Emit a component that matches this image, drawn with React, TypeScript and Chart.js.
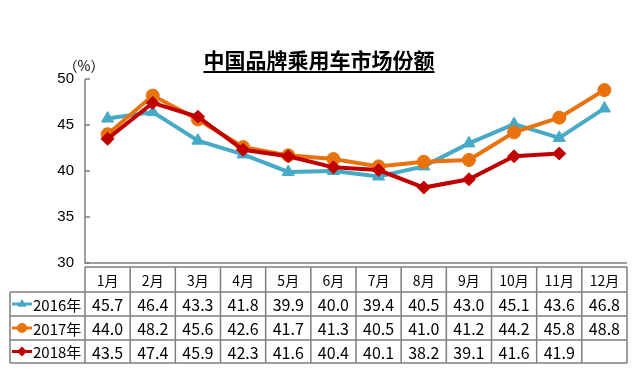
import React, { useEffect, useRef } from "react";
import { Chart, registerables } from "chart.js";

Chart.register(...registerables);

const months = ["1月", "2月", "3月", "4月", "5月", "6月", "7月", "8月", "9月", "10月", "11月", "12月"];
const values2016 = [45.7, 46.4, 43.3, 41.8, 39.9, 40.0, 39.4, 40.5, 43.0, 45.1, 43.6, 46.8];
const values2017 = [44.0, 48.2, 45.6, 42.6, 41.7, 41.3, 40.5, 41.0, 41.2, 44.2, 45.8, 48.8];
const values2018 = [43.5, 47.4, 45.9, 42.3, 41.6, 40.4, 40.1, 38.2, 39.1, 41.6, 41.9, null];
const seriesNames = ["2016年", "2017年", "2018年"];
const yTickValues = [30, 35, 40, 45, 50];
const titleText = "中国品牌乘用车市场份额";
const unitText = "（%）";

const COLORS = ["#46AAC6", "#E8720C", "#C00000"];
const MARKERS = ["triangle", "circle", "rectRot"];
const CJK = "'Noto Sans CJK SC', sans-serif";
const GRID = "#7f7f7f";

function drawMarker(ctx: CanvasRenderingContext2D, kind: string, x: number, y: number, r: number) {
  ctx.beginPath();
  if (kind === "triangle") {
    ctx.moveTo(x, y - r);
    ctx.lineTo(x + r * 0.9, y + r * 0.55);
    ctx.lineTo(x - r * 0.9, y + r * 0.55);
    ctx.closePath();
  } else if (kind === "circle") {
    ctx.arc(x, y, r, 0, Math.PI * 2);
  } else {
    ctx.moveTo(x, y - r);
    ctx.lineTo(x + r, y);
    ctx.lineTo(x, y + r);
    ctx.lineTo(x - r, y);
    ctx.closePath();
  }
  ctx.fill();
}

const decorPlugin = {
  id: "decor",
  afterDraw(chart: any) {
    const ctx: CanvasRenderingContext2D = chart.ctx;
    const xs = chart.scales.x;
    const ys = chart.scales.y;
    const { left, right, top, bottom } = chart.chartArea;
    ctx.save();

    // Title
    ctx.fillStyle = "#000";
    ctx.font = `bold 21px ${CJK}`;
    ctx.textAlign = "center";
    ctx.textBaseline = "middle";
    ctx.fillText(titleText, 319, 60);
    const tw = ctx.measureText(titleText).width;
    ctx.fillRect(319 - tw / 2, 71, tw, 2);

    // Unit
    ctx.font = `14px ${CJK}`;
    ctx.fillText(unitText, 84, 66);

    // Axes
    ctx.strokeStyle = GRID;
    ctx.lineWidth = 1.5;
    ctx.beginPath();
    ctx.moveTo(left, top);
    ctx.lineTo(left, bottom);
    ctx.lineTo(right, bottom);
    ctx.stroke();
    ctx.beginPath();
    yTickValues.forEach((v) => {
      const py = ys.getPixelForValue(v);
      ctx.moveTo(left, py);
      ctx.lineTo(left + 5, py);
    });
    ctx.stroke();

    // Table
    const half = (right - left) / months.length / 2;
    const bounds: number[] = [];
    for (let i = 0; i < months.length; i++) bounds.push(xs.getPixelForValue(i) - half);
    bounds.push(xs.getPixelForValue(months.length - 1) + half);
    const headTop = 267;
    const rowTops = [292, 316, 340];
    const tableBottom = 363;
    const tableLeft = 10;

    ctx.strokeStyle = GRID;
    ctx.lineWidth = 1.5;
    ctx.beginPath();
    ctx.moveTo(left, headTop);
    ctx.lineTo(right, headTop);
    [...rowTops, tableBottom].forEach((ry) => {
      ctx.moveTo(tableLeft, ry);
      ctx.lineTo(right, ry);
    });
    bounds.forEach((bx) => {
      ctx.moveTo(bx, headTop);
      ctx.lineTo(bx, tableBottom);
    });
    ctx.moveTo(tableLeft, rowTops[0]);
    ctx.lineTo(tableLeft, tableBottom);
    ctx.stroke();

    ctx.fillStyle = "#000";
    ctx.textAlign = "center";
    ctx.textBaseline = "middle";
    ctx.font = `14px ${CJK}`;
    months.forEach((m, i) => {
      ctx.fillText(m, xs.getPixelForValue(i), (headTop + rowTops[0]) / 2 + 1);
    });

    const allValues = [values2016, values2017, values2018];
    allValues.forEach((vals, r) => {
      const rowTop = rowTops[r];
      const rowBot = r < 2 ? rowTops[r + 1] : tableBottom;
      const cy = (rowTop + rowBot) / 2 + 1;
      ctx.font = `16px ${CJK}`;
      ctx.fillStyle = "#000";
      ctx.textAlign = "center";
      vals.forEach((v, i) => {
        if (v === null || v === undefined) return;
        ctx.fillText(v.toFixed(1), xs.getPixelForValue(i), cy);
      });
      // legend key
      ctx.strokeStyle = COLORS[r];
      ctx.lineWidth = 3;
      ctx.beginPath();
      ctx.moveTo(12, cy - 1);
      ctx.lineTo(32, cy - 1);
      ctx.stroke();
      ctx.fillStyle = COLORS[r];
      drawMarker(ctx, MARKERS[r], 22, cy - 1, 5);
      ctx.fillStyle = "#000";
      ctx.textAlign = "left";
      ctx.font = `15px ${CJK}`;
      ctx.fillText(seriesNames[r], 33, cy);
    });

    ctx.restore();
  },
};

export default function App() {
  const canvasRef = useRef<HTMLCanvasElement | null>(null);

  useEffect(() => {
    if (!canvasRef.current) return;
    const chart = new Chart(canvasRef.current, {
      type: "line",
      data: {
        labels: months,
        datasets: [values2016, values2017, values2018].map((vals, i) => ({
          label: seriesNames[i],
          data: vals,
          borderColor: COLORS[i],
          backgroundColor: COLORS[i],
          borderWidth: 4,
          pointStyle: MARKERS[i],
          pointRadius: i === 0 ? 7 : i === 1 ? 6.5 : 6.5,
          pointBorderWidth: 1,
          pointBackgroundColor: COLORS[i],
          pointBorderColor: COLORS[i],
          tension: 0,
          spanGaps: false,
          order: 2 - i,
        })),
      },
      options: {
        responsive: false,
        animation: false,
        layout: { padding: { left: 0, top: 79, right: 13, bottom: 119 } },
        plugins: {
          legend: { display: false },
          title: { display: false },
          tooltip: { enabled: false },
        },
        scales: {
          x: { type: "category", offset: true, display: false },
          y: {
            min: 30,
            max: 50,
            ticks: {
              stepSize: 5,
              padding: 11,
              color: "#000",
              font: { family: "'Liberation Sans', Arial, sans-serif", size: 15 },
            },
            grid: { display: false, drawTicks: false },
            border: { display: false },
            afterFit: (s: any) => {
              s.width = 85;
            },
          },
        },
      },
      plugins: [decorPlugin],
    } as any);
    return () => chart.destroy();
  }, []);

  return (
    <div style={{ position: "fixed", left: 0, top: 0, width: 640, height: 382, background: "#fff" }}>
      <canvas ref={canvasRef} width={640} height={382} style={{ display: "block" }} />
    </div>
  );
}
